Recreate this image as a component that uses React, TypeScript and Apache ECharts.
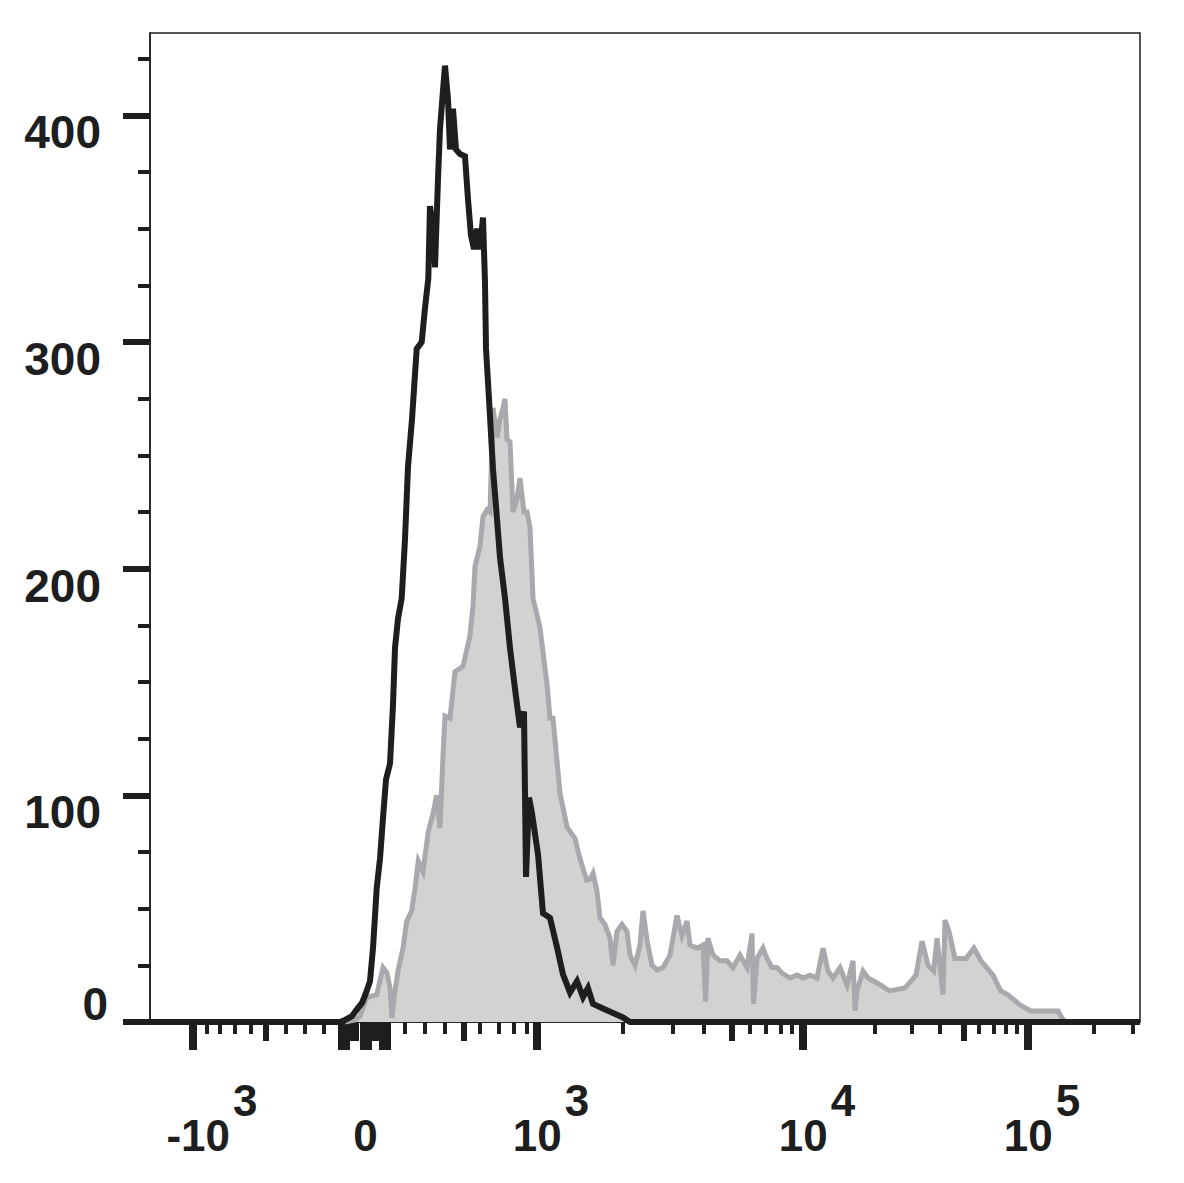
import React, { useEffect, useRef } from "react";
import * as echarts from "echarts";

// x values are display channels of the biexponential axis (0 = left edge of plot)
const blackX = [0, 190, 195, 202, 208, 212, 216, 220, 223, 226.7, 230, 233, 236, 240, 243, 245, 248, 251.7, 255, 258, 262, 266.7, 271.7, 275, 278.3, 280, 283, 285, 288, 290, 293, 295, 298, 300, 303, 306, 310, 315, 318, 321, 324, 327, 330, 333, 335, 336, 339, 343, 347, 350, 355, 360, 365, 370, 374, 376, 379, 382, 388, 393, 400, 407, 413, 420, 427, 433, 438, 443, 453, 463, 473, 480, 990];
const blackY = [0, 0, 0.9, 2.6, 6.2, 8.4, 12.8, 18, 32.6, 59, 72, 90, 107, 114, 140, 165, 178, 187, 213, 245, 266, 297, 300, 315, 328, 360, 350, 333, 372, 394, 411, 422, 407, 385, 403, 385, 383, 382, 363, 347, 341, 350, 341, 355, 326, 297, 275, 244, 222, 205, 187, 165, 147, 130, 137, 64, 99, 92, 74, 48, 46, 33, 21, 13, 18, 11, 15, 8, 6, 4, 2, 0, 0];

const grayX = [195, 205, 210, 216.7, 222, 226.7, 233, 237, 240, 242, 244, 248, 253, 256.7, 261.7, 265, 268.3, 273, 278.3, 283, 286.7, 290, 293, 295, 300, 305, 310, 313, 320, 323, 325, 330, 333, 337, 340, 343, 347, 350, 353, 355, 357, 360, 363, 367, 370, 374, 377, 380, 383, 390, 397, 400, 403, 410, 417, 425, 430, 436.7, 440, 443, 447, 450, 455, 460, 463, 467, 472, 477, 480, 485, 490, 493, 497, 502, 507, 513, 520, 527, 532, 537, 540, 547, 553, 555.6, 558, 563, 570, 577, 583, 590, 597, 602, 603.5, 607, 613, 617, 622, 627, 632, 640, 647, 653, 660, 667, 673, 678, 683, 690, 697, 703, 705, 707, 713, 718, 728, 739.5, 755, 766, 772, 778, 783.6, 787, 793, 795, 799, 805, 816, 824, 831, 843, 850.6, 858, 870, 881, 893, 908, 912, 915];
const grayY = [0, 0.9, 2.6, 10.6, 11.5, 12, 24, 21.6, 15, 1.8, 10.6, 22.5, 32.6, 44.5, 49, 59, 71, 66.5, 84, 92, 100, 85.5, 117.6, 135, 134, 154.6, 156, 157, 170.5, 183.7, 201, 210, 223, 226, 225, 271, 258, 266, 271, 275, 257, 256, 225, 231, 240, 225, 225, 218, 187, 174, 149, 134, 134, 101, 86, 81, 72, 62.6, 63, 65.6, 57.7, 46, 43, 37, 25, 40, 43, 40, 29.5, 25, 34, 49, 36, 25, 23, 24, 29.5, 47, 38, 44.5, 34, 32.6, 34, 9, 37, 29.5, 27, 27, 24, 29.5, 24, 39, 8, 28, 32.6, 28, 24, 24, 21.6, 19.4, 20.7, 19.4, 20.7, 19.4, 32.6, 22.5, 19.4, 24, 16.3, 27, 5, 13.7, 22.5, 19.4, 17, 13.7, 15, 20.7, 35.7, 25, 22.5, 37, 12, 45, 40, 28, 28, 32.6, 27, 20.7, 13.7, 12, 7.5, 4.8, 4.8, 4.8, 1.8, 0];

// axis ticks (display channels)
const xTicksMajor = [43, 387, 653, 878];
const xTicksMajorCluster = [194, 215.5, 235];
const xTicksMedium = [115.7, 313.3, 581.4, 813.3];
const xTicksMediumCluster = [204.5, 226];
const xTicksMinor = [56.7, 69.3, 85, 100.7, 135.7, 154.7, 174, 255, 275, 295, 330, 348.3, 363.3, 376.7, 472.4, 522.5, 554, 599.5, 615.7, 631, 641.9, 724.7, 762, 789.4, 828.7, 844, 855.6, 866.4, 944, 982.8];
const xLabelValues = [43, 215.5, 387, 653, 878];
const xLabelBase = ["-10", "0", "10", "10", "10"];
const xLabelExp = ["3", "", "3", "4", "5"];

const yLabelValues = [0, 100, 200, 300, 400];
const yMinorTicks = [25, 50, 75, 125, 150, 175, 225, 250, 275, 325, 350, 375, 425];

const X_MIN = 0;
const X_MAX = 990;
const Y_MAX = 436.4;
const INK = "#1e1e1e";
const FONT = "Liberation Sans, Arial, sans-serif";

function tickAxis(values: number[], length: number, width: number) {
  return {
    type: "value",
    position: "bottom",
    min: X_MIN,
    max: X_MAX,
    axisLine: { show: false },
    splitLine: { show: false },
    axisLabel: { show: false },
    axisTick: {
      show: true,
      customValues: values,
      length,
      lineStyle: { color: INK, width },
    },
  };
}

export default function App() {
  const ref = useRef<HTMLDivElement>(null);
  useEffect(() => {
    if (!ref.current) return;
    const chart = echarts.init(ref.current, null, { renderer: "svg" });
    const black = blackX.map((x, i) => [x, blackY[i]]);
    const gray = grayX.map((x, i) => [x, grayY[i]]);
    const option: any = {
      animation: false,
      backgroundColor: "#ffffff",
      grid: {
        left: 150,
        right: 44,
        top: 33,
        bottom: 161,
        show: true,
        borderColor: INK,
        borderWidth: 1.5,
        backgroundColor: "transparent",
      },
      xAxis: [
        {
          type: "value",
          position: "bottom",
          min: X_MIN,
          max: X_MAX,
          axisLine: { show: true, lineStyle: { color: INK, width: 1.5 } },
          splitLine: { show: false },
          axisTick: { show: false },
          axisLabel: {
            show: true,
            customValues: xLabelValues,
            margin: 56,
            color: INK,
            fontFamily: FONT,
            fontSize: 44,
            fontWeight: "bold",
            formatter: (value: number) => {
              const i = xLabelValues.findIndex((v) => Math.abs(v - value) < 0.01);
              if (i < 0) return "";
              if (!xLabelExp[i]) return `{z|${xLabelBase[i]}}`;
              const st = xLabelBase[i].startsWith("-") ? "n" : "b";
              return `{${st}|${xLabelBase[i]}}{s|${xLabelExp[i]}}`;
            },
            rich: {
              b: { fontFamily: FONT, fontSize: 44, fontWeight: "bold", color: INK, padding: [0, 0, 0, 28], verticalAlign: "bottom" },
              n: { fontFamily: FONT, fontSize: 44, fontWeight: "bold", color: INK, padding: [0, 0, 0, 38], verticalAlign: "bottom" },
              s: { fontFamily: FONT, fontSize: 44, fontWeight: "bold", color: INK, padding: [0, 0, 35, 3], verticalAlign: "bottom" },
              z: { fontFamily: FONT, fontSize: 44, fontWeight: "bold", color: INK, padding: [35, 0, 0, 0], verticalAlign: "bottom" },
            },
          },
        },
        tickAxis(xTicksMajor, 28, 8),
        tickAxis(xTicksMajorCluster, 28, 12),
        tickAxis(xTicksMedium, 19, 6),
        tickAxis(xTicksMediumCluster, 19, 9),
        tickAxis(xTicksMinor, 12, 4),
      ],
      yAxis: [
        {
          type: "value",
          min: 0,
          max: Y_MAX,
          position: "left",
          axisLine: { show: true, lineStyle: { color: INK, width: 1.5 } },
          splitLine: { show: false },
          axisTick: { show: true, customValues: yLabelValues, length: 27, lineStyle: { color: INK, width: 6 } },
          axisLabel: {
            show: true,
            customValues: yLabelValues,
            margin: 42,
            color: INK,
            fontFamily: FONT,
            fontSize: 46,
            fontWeight: "bold",
            formatter: (value: number) => (value === 0 ? `{z|0}` : `{a|${value}}`),
            rich: {
              a: { fontFamily: FONT, fontSize: 46, fontWeight: "bold", color: INK, padding: [34, 7, 0, 0] },
              z: { fontFamily: FONT, fontSize: 46, fontWeight: "bold", color: INK, padding: [0, 0, 36, 0] },
            },
          },
        },
        {
          type: "value",
          min: 0,
          max: Y_MAX,
          position: "left",
          axisLine: { show: false },
          splitLine: { show: false },
          axisLabel: { show: false },
          axisTick: { show: true, customValues: yMinorTicks, length: 12, lineStyle: { color: INK, width: 4 } },
        },
      ],
      series: [
        {
          type: "line",
          xAxisIndex: 0,
          yAxisIndex: 0,
          data: gray,
          symbol: "none",
          clip: false,
          lineStyle: { color: "#a9a9ad", width: 5, join: "miter" },
          areaStyle: { color: "#d2d2d2", opacity: 1 },
          z: 2,
        },
        {
          type: "line",
          xAxisIndex: 0,
          yAxisIndex: 0,
          data: black,
          symbol: "none",
          clip: false,
          lineStyle: { color: INK, width: 6, join: "miter" },
          z: 3,
        },
      ],
    };
    chart.setOption(option);
    return () => chart.dispose();
  }, []);
  return (
    <div
      ref={ref}
      style={{ position: "fixed", left: 0, top: 0, width: 1184, height: 1183, background: "#fff" }}
    />
  );
}
